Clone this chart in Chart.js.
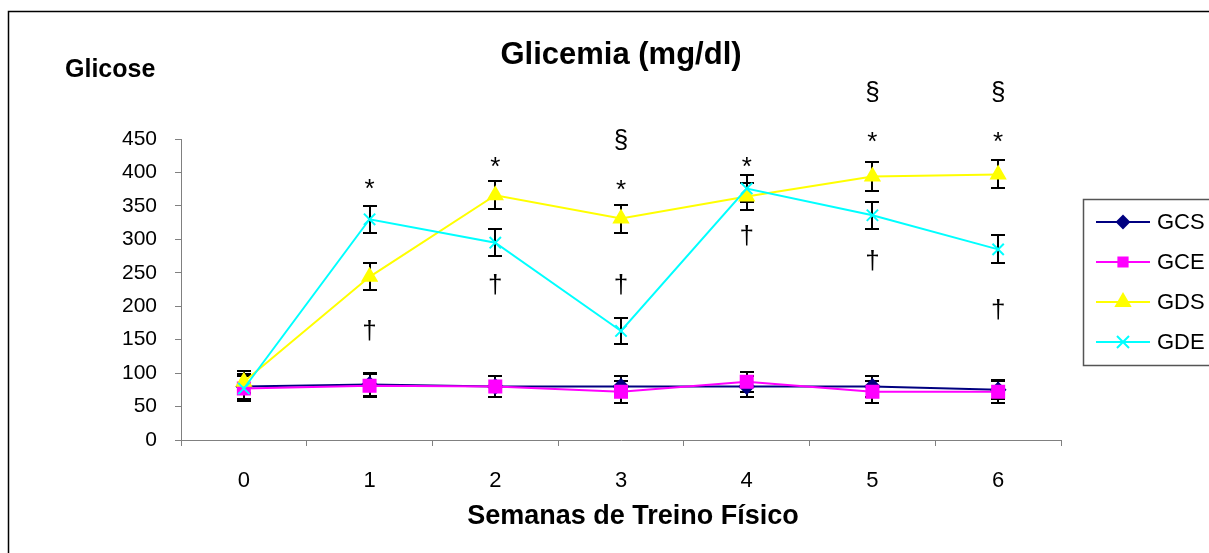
<!DOCTYPE html>
<html>
<head>
<meta charset="utf-8">
<script src="https://cdn.jsdelivr.net/npm/chart.js@4/dist/chart.umd.min.js"></script>
<style>
  html, body { margin: 0; padding: 0; background: #fff; }
  #wrap { position: relative; width: 1209px; height: 553px; }
</style>
</head>
<body>
<div id="wrap"><canvas id="c" width="1209" height="553"></canvas></div>
<script>
// Weeks of physical training
const weeks = ['0', '1', '2', '3', '4', '5', '6'];
const yTicks = [0, 50, 100, 150, 200, 250, 300, 350, 400, 450];

// Mean glycaemia (mg/dl) per group
const gcs = [80, 83, 80, 80, 80, 80, 75];
const gce = [77, 81, 80, 72, 87, 72, 72];
const gds = [87, 244, 366, 331, 364, 394, 397];
const gde = [77, 330, 295, 163, 376, 336, 285];

// Standard error per group
const gcsErr = [18, 17, 15, 15, 15, 15, 14];
const gceErr = [18, 17, 15, 16, 15, 16, 16];
const gdsErr = [16, 20, 21, 21, 20, 21, 21];
const gdeErr = [18, 20, 20, 20, 20, 20, 21];

// Significance symbols: week index, level (mg/dl), symbol
const markWeek  = [1, 1, 2, 2, 3, 3, 3, 4, 4, 5, 5, 5, 6, 6, 6];
const markLevel = [383, 163, 416, 233, 449, 381, 233, 416, 305, 521, 453, 268, 521, 453, 195];
const markText  = ['*', '†', '*', '†', '§', '*', '†', '*', '†', '§', '*', '†', '§', '*', '†'];

const FONT = '"Liberation Sans", Arial, Helvetica, sans-serif';

const datasets = [
  { label: 'GCS', data: gcs, err: gcsErr, borderColor: '#000080', backgroundColor: '#000080',
    pointStyle: 'rectRot', pointRadius: 7, legendRadius: 6, order: 3 },
  { label: 'GCE', data: gce, err: gceErr, borderColor: '#FF00FF', backgroundColor: '#FF00FF',
    pointStyle: 'rect', pointRadius: 8.5, legendRadius: 6.5, order: 2 },
  { label: 'GDS', data: gds, err: gdsErr, borderColor: '#FFFF00', backgroundColor: '#FFFF00',
    pointStyle: 'triangle', pointRadius: 8, legendRadius: 8, order: 1 },
  { label: 'GDE', data: gde, err: gdeErr, borderColor: '#00FFFF', backgroundColor: '#00FFFF',
    pointStyle: 'crossRot', pointRadius: 8, legendRadius: 8.5, order: 0 }
].map(d => Object.assign({
  borderWidth: 2,
  pointBorderWidth: 2,
  pointHoverRadius: d.pointRadius,
  tension: 0,
  fill: false
}, d));

// Outer frame of the figure
const framePlugin = {
  id: 'frame',
  beforeDraw(chart) {
    const ctx = chart.ctx;
    ctx.save();
    ctx.fillStyle = '#fff';
    ctx.fillRect(0, 0, chart.width, chart.height);
    ctx.strokeStyle = '#000';
    ctx.lineWidth = 1.5;
    ctx.beginPath();
    ctx.moveTo(8.5, chart.height + 2);
    ctx.lineTo(8.5, 11.5);
    ctx.lineTo(chart.width + 2, 11.5);
    ctx.stroke();
    ctx.restore();
  }
};

// Error bars (± SE) under the series markers
const errorBarPlugin = {
  id: 'errorBars',
  beforeDatasetsDraw(chart) {
    const ctx = chart.ctx;
    const y = chart.scales.y;
    ctx.save();
    ctx.strokeStyle = '#000';
    ctx.lineWidth = 2;
    chart.data.datasets.forEach((ds, di) => {
      const meta = chart.getDatasetMeta(di);
      meta.data.forEach((pt, i) => {
        const v = ds.data[i], e = ds.err[i];
        const top = Math.round(y.getPixelForValue(v + e));
        const bot = Math.round(y.getPixelForValue(v - e));
        const x = Math.round(pt.x);
        ctx.beginPath();
        ctx.moveTo(x, top); ctx.lineTo(x, bot);
        ctx.moveTo(x - 7, top); ctx.lineTo(x + 7, top);
        ctx.moveTo(x - 7, bot); ctx.lineTo(x + 7, bot);
        ctx.stroke();
      });
    });
    ctx.restore();
  }
};

// Significance symbols, titles and legend
const decorPlugin = {
  id: 'decor',
  afterDraw(chart) {
    const ctx = chart.ctx;
    const xs = chart.scales.x, ys = chart.scales.y;
    const area = chart.chartArea;
    ctx.save();

    // symbols centred on their level
    ctx.fillStyle = '#000';
    ctx.font = '26px ' + FONT;
    ctx.textAlign = 'center';
    ctx.textBaseline = 'alphabetic';
    markText.forEach((t, i) => {
      const m = ctx.measureText(t);
      const cx = xs.getPixelForValue(markWeek[i]);
      const cy = ys.getPixelForValue(markLevel[i]);
      const off = (m.actualBoundingBoxAscent - m.actualBoundingBoxDescent) / 2;
      ctx.fillText(t, cx, cy + off);
    });

    // chart title
    ctx.font = 'bold 31px ' + FONT;
    ctx.textBaseline = 'middle';
    ctx.fillText('Glicemia (mg/dl)', (area.left + area.right) / 2, 55);

    // category axis caption
    ctx.font = 'bold 27px ' + FONT;
    ctx.fillText('Semanas de Treino Físico', (area.left + area.right) / 2 + 12, 517);

    // value axis caption
    ctx.font = 'bold 25px ' + FONT;
    ctx.textAlign = 'left';
    ctx.fillText('Glicose', 65, 70);

    // legend
    const lx = 1083.5, ly = 199.5, lh = 166;
    ctx.strokeStyle = '#555';
    ctx.lineWidth = 1.5;
    ctx.beginPath();
    ctx.moveTo(chart.width + 2, ly);
    ctx.lineTo(lx, ly);
    ctx.lineTo(lx, ly + lh);
    ctx.lineTo(chart.width + 2, ly + lh);
    ctx.stroke();

    chart.data.datasets.forEach((ds, i) => {
      const rowY = 222 + i * 40;
      ctx.strokeStyle = ds.borderColor;
      ctx.lineWidth = 2;
      ctx.beginPath();
      ctx.moveTo(1096, rowY); ctx.lineTo(1150, rowY);
      ctx.stroke();
      ctx.fillStyle = ds.backgroundColor;
      ctx.strokeStyle = ds.borderColor;
      Chart.helpers.drawPoint(ctx, {
        pointStyle: ds.pointStyle, rotation: 0,
        radius: ds.legendRadius, borderWidth: 2
      }, 1123, rowY);
      ctx.fillStyle = '#000';
      ctx.font = '22px ' + FONT;
      ctx.textAlign = 'left';
      ctx.textBaseline = 'middle';
      ctx.fillText(ds.label, 1157, rowY + 1);
    });
    ctx.restore();
  }
};

new Chart(document.getElementById('c'), {
  type: 'line',
  data: { labels: weeks, datasets },
  options: {
    responsive: false,
    animation: false,
    devicePixelRatio: 1,
    layout: { padding: { left: 0, top: 139, right: 148, bottom: 0 } },
    plugins: { legend: { display: false }, title: { display: false }, tooltip: { enabled: false } },
    scales: {
      x: {
        type: 'category',
        offset: true,
        grid: { offset: true, drawOnChartArea: false, drawTicks: true, tickLength: 6, color: '#808080', lineWidth: 1 },
        border: { color: '#808080', width: 1 },
        ticks: { color: '#000', font: { family: FONT, size: 22 }, padding: 22, maxRotation: 0 },
        afterFit(s) { s.height = 113; }
      },
      y: {
        min: 0, max: 450,
        afterBuildTicks(s) { s.ticks = yTicks.map(v => ({ value: v })); },
        grid: { drawOnChartArea: false, drawTicks: true, tickLength: 6, color: '#808080', lineWidth: 1 },
        border: { color: '#808080', width: 1 },
        ticks: { color: '#000', font: { family: FONT, size: 21 }, padding: 18 },
        afterFit(s) { s.width = 181; }
      }
    }
  },
  plugins: [framePlugin, errorBarPlugin, decorPlugin]
});
</script>
</body>
</html>
